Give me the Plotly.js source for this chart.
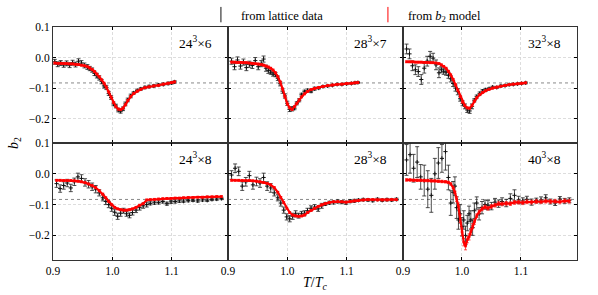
<!DOCTYPE html>
<html><head><meta charset="utf-8">
<script src="https://cdn.plot.ly/plotly-3.0.1.min.js"></script>
<style>html,body{margin:0;padding:0;background:#fff;}#plot{width:598px;height:295px;}</style>
</head><body><div id="plot"></div>
<script>
// ---------- data ----------
const panelLabels = ["24<sup>3</sup>×6","28<sup>3</sup>×7","32<sup>3</sup>×8","24<sup>3</sup>×8","28<sup>3</sup>×8","40<sup>3</sup>×8"];
const xTickVals = [0.9, 1.0, 1.1];
const xTickText = ["0.9", "1.0", "1.1"];
const yTickVals = [0.1, 0.0, -0.1, -0.2];
const yTickText = ["0.1", "0.0", "−0.1", "−0.2"];
const refLevel = -0.0833;

// 24^3 x 6
const T_A = [0.903,0.908,0.913,0.918,0.923,0.928,0.933,0.938,0.943,0.948,0.953,0.958,0.962,0.966,0.970,0.974,0.978,0.982,0.986,0.990,0.994,0.998,1.002,1.006,1.010,1.014,1.018,1.022,1.026,1.031,1.036,1.042,1.048,1.055,1.062,1.070,1.078,1.086,1.094,1.100,1.105];
const model_A = [-0.018,-0.019,-0.019,-0.020,-0.020,-0.021,-0.021,-0.022,-0.023,-0.025,-0.027,-0.030,-0.034,-0.039,-0.046,-0.054,-0.063,-0.073,-0.084,-0.097,-0.113,-0.130,-0.148,-0.161,-0.169,-0.171,-0.166,-0.155,-0.141,-0.128,-0.118,-0.110,-0.104,-0.099,-0.096,-0.093,-0.091,-0.087,-0.084,-0.082,-0.080];
const lat_A = [-0.014,-0.022,-0.018,-0.024,-0.019,-0.025,-0.017,-0.023,-0.012,-0.018,-0.026,-0.031,-0.036,-0.041,-0.052,-0.060,-0.067,-0.079,-0.093,-0.098,-0.118,-0.131,-0.152,-0.159,-0.172,-0.176,-0.168,-0.152,-0.139,-0.126,-0.116,-0.108,-0.103,-0.098,-0.095,-0.093,-0.090,-0.088,-0.085,-0.083,-0.080];
const latErr_A = [0.008,0.008,0.008,0.008,0.008,0.008,0.008,0.008,0.008,0.008,0.008,0.008,0.007,0.007,0.007,0.007,0.007,0.007,0.007,0.007,0.006,0.006,0.006,0.006,0.006,0.006,0.006,0.006,0.006,0.006,0.004,0.004,0.004,0.004,0.004,0.004,0.004,0.004,0.004,0.004,0.004];

// 28^3 x 7
const T_B = [0.906,0.911,0.916,0.921,0.926,0.931,0.936,0.941,0.946,0.951,0.956,0.960,0.964,0.968,0.972,0.976,0.980,0.984,0.988,0.992,0.996,1.000,1.004,1.008,1.012,1.016,1.020,1.024,1.029,1.034,1.040,1.046,1.053,1.060,1.068,1.076,1.084,1.092,1.100,1.108,1.114,1.119];
const model_B = [-0.015,-0.015,-0.016,-0.016,-0.017,-0.017,-0.018,-0.019,-0.020,-0.021,-0.023,-0.025,-0.028,-0.031,-0.035,-0.041,-0.050,-0.063,-0.080,-0.103,-0.128,-0.152,-0.165,-0.170,-0.161,-0.150,-0.139,-0.129,-0.119,-0.111,-0.105,-0.101,-0.098,-0.095,-0.092,-0.090,-0.088,-0.087,-0.085,-0.084,-0.083,-0.082];
const lat_B = [-0.012,-0.030,-0.008,-0.028,-0.015,-0.033,-0.022,-0.026,-0.010,-0.030,-0.020,-0.005,-0.035,-0.042,-0.048,-0.054,-0.056,-0.068,-0.086,-0.110,-0.126,-0.150,-0.170,-0.168,-0.166,-0.150,-0.140,-0.122,-0.112,-0.108,-0.110,-0.102,-0.100,-0.095,-0.093,-0.091,-0.088,-0.088,-0.086,-0.085,-0.083,-0.082];
const latErr_B = [0.010,0.010,0.010,0.010,0.010,0.010,0.010,0.010,0.010,0.010,0.010,0.010,0.010,0.010,0.007,0.007,0.007,0.007,0.007,0.007,0.007,0.007,0.007,0.007,0.005,0.005,0.005,0.005,0.005,0.005,0.005,0.005,0.003,0.003,0.003,0.003,0.003,0.003,0.003,0.003,0.003,0.003];

// 32^3 x 8
const T_C = [0.906,0.911,0.916,0.921,0.926,0.931,0.936,0.941,0.946,0.951,0.956,0.961,0.965,0.969,0.973,0.977,0.981,0.985,0.989,0.993,0.997,1.001,1.005,1.009,1.013,1.017,1.021,1.025,1.030,1.035,1.040,1.046,1.052,1.059,1.066,1.073,1.080,1.087,1.094,1.101,1.108];
const model_C = [-0.014,-0.014,-0.014,-0.015,-0.015,-0.015,-0.016,-0.016,-0.017,-0.017,-0.018,-0.020,-0.024,-0.029,-0.035,-0.045,-0.057,-0.072,-0.089,-0.107,-0.128,-0.146,-0.158,-0.165,-0.166,-0.157,-0.143,-0.132,-0.122,-0.114,-0.109,-0.104,-0.100,-0.097,-0.094,-0.091,-0.089,-0.087,-0.086,-0.084,-0.083];
const lat_C = [0.028,0.012,-0.027,-0.040,-0.046,-0.072,-0.035,-0.012,0.004,-0.002,-0.024,-0.050,-0.040,-0.045,-0.048,-0.058,-0.070,-0.085,-0.100,-0.112,-0.135,-0.150,-0.160,-0.172,-0.175,-0.160,-0.140,-0.128,-0.118,-0.110,-0.106,-0.102,-0.097,-0.098,-0.093,-0.092,-0.089,-0.088,-0.086,-0.085,-0.083];
const latErr_C = [0.016,0.016,0.016,0.016,0.016,0.016,0.016,0.016,0.016,0.016,0.016,0.016,0.010,0.010,0.010,0.010,0.010,0.010,0.010,0.010,0.008,0.008,0.008,0.008,0.008,0.008,0.005,0.005,0.005,0.005,0.005,0.003,0.003,0.003,0.003,0.003,0.003,0.003,0.003,0.003,0.003];

// 24^3 x 8 and 28^3 x 8 share temperatures
const T_N8 = [0.906,0.912,0.918,0.924,0.930,0.936,0.942,0.948,0.954,0.960,0.966,0.972,0.978,0.984,0.989,0.994,0.999,1.004,1.009,1.014,1.019,1.024,1.029,1.034,1.040,1.046,1.052,1.058,1.064,1.071,1.078,1.085,1.092,1.099,1.106,1.113,1.120,1.128,1.136,1.144,1.152,1.160,1.168,1.176,1.184];
const model_D = [-0.021,-0.021,-0.022,-0.022,-0.022,-0.023,-0.024,-0.026,-0.029,-0.033,-0.038,-0.045,-0.055,-0.066,-0.078,-0.090,-0.101,-0.109,-0.114,-0.117,-0.118,-0.118,-0.117,-0.114,-0.109,-0.102,-0.097,-0.085,-0.084,-0.083,-0.082,-0.081,-0.080,-0.080,-0.079,-0.079,-0.078,-0.077,-0.077,-0.076,-0.076,-0.075,-0.075,-0.074,-0.074];
const lat_D = [-0.032,-0.048,-0.038,-0.030,-0.046,-0.026,-0.010,-0.015,-0.028,-0.034,-0.042,-0.050,-0.062,-0.078,-0.090,-0.100,-0.112,-0.125,-0.138,-0.128,-0.120,-0.130,-0.135,-0.126,-0.118,-0.110,-0.104,-0.100,-0.096,-0.094,-0.093,-0.090,-0.097,-0.091,-0.090,-0.088,-0.089,-0.087,-0.086,-0.088,-0.085,-0.086,-0.083,-0.082,-0.080];
const latErr_D = [0.012,0.012,0.012,0.012,0.012,0.012,0.012,0.012,0.012,0.012,0.012,0.012,0.010,0.010,0.010,0.010,0.010,0.010,0.010,0.010,0.008,0.008,0.008,0.008,0.008,0.008,0.008,0.008,0.005,0.005,0.005,0.005,0.005,0.005,0.005,0.005,0.004,0.004,0.004,0.004,0.004,0.004,0.004,0.004,0.004];

const model_E = [-0.021,-0.021,-0.021,-0.022,-0.022,-0.022,-0.023,-0.024,-0.026,-0.028,-0.031,-0.036,-0.045,-0.060,-0.077,-0.094,-0.112,-0.126,-0.134,-0.137,-0.138,-0.137,-0.134,-0.126,-0.119,-0.112,-0.106,-0.101,-0.097,-0.093,-0.091,-0.090,-0.091,-0.092,-0.090,-0.088,-0.087,-0.085,-0.084,-0.084,-0.085,-0.085,-0.085,-0.084,-0.084];
const lat_E = [-0.004,0.018,0.008,-0.040,-0.026,-0.006,-0.036,-0.025,-0.030,-0.012,-0.040,-0.046,-0.062,-0.078,-0.095,-0.118,-0.140,-0.146,-0.138,-0.130,-0.136,-0.130,-0.128,-0.120,-0.112,-0.108,-0.114,-0.104,-0.098,-0.094,-0.093,-0.090,-0.092,-0.094,-0.089,-0.088,-0.086,-0.084,-0.085,-0.087,-0.083,-0.086,-0.084,-0.085,-0.083];
const latErr_E = [0.014,0.014,0.014,0.014,0.014,0.014,0.014,0.014,0.014,0.014,0.014,0.014,0.010,0.010,0.010,0.010,0.010,0.010,0.010,0.010,0.008,0.008,0.008,0.008,0.008,0.008,0.008,0.008,0.005,0.005,0.005,0.005,0.005,0.005,0.005,0.005,0.004,0.004,0.004,0.004,0.004,0.004,0.004,0.004,0.004];

// 40^3 x 8
const T_F = [0.906,0.912,0.918,0.924,0.930,0.936,0.942,0.948,0.954,0.960,0.966,0.972,0.977,0.981,0.985,0.988,0.991,0.994,0.997,1.000,1.003,1.006,1.009,1.012,1.015,1.018,1.021,1.025,1.029,1.034,1.039,1.044,1.050,1.056,1.062,1.068,1.075,1.082,1.089,1.096,1.103,1.110,1.118,1.126,1.134,1.142,1.150,1.158,1.166,1.174,1.182];
const model_F = [-0.020,-0.020,-0.021,-0.021,-0.021,-0.022,-0.022,-0.023,-0.023,-0.024,-0.025,-0.026,-0.028,-0.033,-0.045,-0.060,-0.082,-0.105,-0.146,-0.189,-0.222,-0.235,-0.214,-0.205,-0.188,-0.170,-0.156,-0.136,-0.124,-0.114,-0.108,-0.112,-0.106,-0.102,-0.097,-0.098,-0.096,-0.097,-0.093,-0.092,-0.094,-0.091,-0.092,-0.090,-0.091,-0.089,-0.090,-0.089,-0.091,-0.088,-0.089];
const modelErr_F = [0.004,0.004,0.004,0.004,0.004,0.004,0.004,0.004,0.004,0.004,0.004,0.004,0.004,0.004,0.004,0.004,0.008,0.010,0.012,0.012,0.012,0.012,0.010,0.010,0.010,0.008,0.008,0.006,0.006,0.006,0.006,0.006,0.006,0.006,0.006,0.006,0.006,0.006,0.006,0.006,0.006,0.006,0.006,0.006,0.006,0.006,0.006,0.006,0.006,0.006,0.006];
const lat_F = [0.045,0.062,0.018,0.038,-0.010,-0.022,-0.050,-0.070,0.000,0.035,0.050,0.072,-0.012,-0.095,-0.060,-0.040,-0.110,-0.150,-0.130,-0.172,-0.150,-0.200,-0.160,-0.130,-0.150,-0.175,-0.120,-0.095,-0.130,-0.110,-0.100,-0.102,-0.105,-0.092,-0.097,-0.090,-0.095,-0.080,-0.070,-0.085,-0.088,-0.083,-0.092,-0.087,-0.085,-0.078,-0.090,-0.095,-0.082,-0.088,-0.086];
const latErr_F = [0.050,0.060,0.045,0.050,0.040,0.050,0.060,0.055,0.050,0.050,0.045,0.060,0.040,0.040,0.035,0.030,0.035,0.030,0.030,0.030,0.030,0.030,0.025,0.025,0.030,0.025,0.025,0.020,0.020,0.020,0.015,0.015,0.012,0.012,0.012,0.012,0.012,0.015,0.018,0.012,0.010,0.010,0.010,0.008,0.010,0.010,0.008,0.008,0.008,0.008,0.008];

const modelErrDefault = 0.003;

const panels = [
  {T: T_A, model: model_A, lat: lat_A, latErr: latErr_A, modelErr: null},
  {T: T_B, model: model_B, lat: lat_B, latErr: latErr_B, modelErr: null},
  {T: T_C, model: model_C, lat: lat_C, latErr: latErr_C, modelErr: null},
  {T: T_N8, model: model_D, lat: lat_D, latErr: latErr_D, modelErr: null},
  {T: T_N8, model: model_E, lat: lat_E, latErr: latErr_E, modelErr: null},
  {T: T_F, model: model_F, lat: lat_F, latErr: latErr_F, modelErr: modelErr_F}
];

// ---------- layout geometry ----------
const W = 598, H = 295;
const colPx = [[53,228],[228,403],[403,577]];
const rowPx = [[27,143],[143,260]];
const FONT = "'Liberation Serif', 'DejaVu Serif', serif";

const traces = [];
const layout = {
  width: W, height: H,
  margin: {l:0, r:0, t:0, b:0},
  paper_bgcolor: "#fff", plot_bgcolor: "#fff",
  font: {family: FONT, size: 11, color: "#000"},
  showlegend: true,
  legend: {orientation: "h", x: 0.336, y: 1.0, xanchor: "left", yanchor: "top",
           bgcolor: "rgba(0,0,0,0)", font: {family: FONT, size: 12.5, color: "#000"},
           entrywidth: 122, entrywidthmode: "pixels", traceorder: "normal"},
  shapes: [], annotations: []
};

panels.forEach((p, i) => {
  const r = Math.floor(i / 3), c = i % 3;
  const n = i + 1;
  const xa = "x" + (n === 1 ? "" : n), ya = "y" + (n === 1 ? "" : n);
  const xk = "xaxis" + (n === 1 ? "" : n), yk = "yaxis" + (n === 1 ? "" : n);
  layout[xk] = {
    domain: [colPx[c][0]/W, colPx[c][1]/W], anchor: ya,
    range: [0.9, 1.195], tickvals: xTickVals, ticktext: xTickText,
    showticklabels: r === 1, ticks: "inside", ticklen: 3, tickcolor: "#000",
    showline: true, mirror: "ticks", linecolor: "#333", linewidth: 1,
    showgrid: true, gridcolor: "#d4d4d4", griddash: "3px,2px", gridwidth: 0.8, zeroline: false,
    tickfont: {family: FONT, size: 11.5}
  };
  layout[yk] = {
    domain: [1 - rowPx[r][1]/H, 1 - rowPx[r][0]/H], anchor: xa,
    range: [-0.28, 0.1], tickvals: yTickVals, ticktext: yTickText,
    showticklabels: c === 0, ticks: "inside", ticklen: 3, tickcolor: "#000",
    showline: true, mirror: "ticks", linecolor: "#333", linewidth: 1,
    showgrid: true, gridcolor: "#d4d4d4", griddash: "3px,2px", gridwidth: 0.8, zeroline: false,
    tickfont: {family: FONT, size: 11.5}
  };
  layout.shapes.push({type: "line", xref: xa + " domain", yref: ya, x0: 0, x1: 1, y0: refLevel, y1: refLevel,
    line: {color: "#888", width: 1, dash: "dot"}, layer: "below"});
  layout.annotations.push({xref: xa + " domain", yref: ya + " domain", x: 0.815, y: 0.87,
    text: panelLabels[i], showarrow: false, font: {family: FONT, size: 13.5}, xanchor: "center", yanchor: "middle"});

  traces.push({
    type: "scatter", mode: "markers", x: p.T, y: p.lat, xaxis: xa, yaxis: ya, showlegend: false,
    marker: {color: "#111", size: 3, symbol: "cross-thin-open", line: {color: "#111", width: 1}},
    error_y: {type: "data", array: p.latErr, visible: true, color: "#222", thickness: 0.8, width: 2}
  });
  traces.push({
    type: "scatter", mode: "lines+markers", x: p.T, y: p.model, xaxis: xa, yaxis: ya, showlegend: false,
    line: {color: "#ff0000", width: 2.2},
    marker: {color: "#ff0000", size: 2.5, symbol: "square"},
    error_y: p.modelErr ? {type: "data", array: p.modelErr, visible: true, color: "#ff2020", thickness: 0.8, width: 1.5}
                        : {type: "constant", value: modelErrDefault, visible: true, color: "#ff2020", thickness: 0.8, width: 1.5}
  });
});

// legend entries
traces.push({type: "scatter", mode: "markers", x: [null], y: [null], name: "from lattice data",
  marker: {symbol: "line-ns-open", size: 11, color: "#111", line: {color: "#111", width: 1}}, showlegend: true});
traces.push({type: "scatter", mode: "markers", x: [null], y: [null], name: "from <i>b</i><sub>2</sub> model",
  marker: {symbol: "line-ns-open", size: 11, color: "#ff0000", line: {color: "#ff0000", width: 1}}, showlegend: true});

layout.annotations.push({xref: "paper", yref: "paper", x: 14/W, y: 1 - 143/H, textangle: -90,
  text: "<i>b</i><sub>2</sub>", showarrow: false, font: {family: FONT, size: 14}, xanchor: "center", yanchor: "middle"});
layout.annotations.push({xref: "paper", yref: "paper", x: 315/W, y: 1 - 283/H,
  text: "<i>T</i>/<i>T</i><sub><i>c</i></sub>", showarrow: false, font: {family: FONT, size: 14}, xanchor: "center", yanchor: "middle"});

Plotly.newPlot("plot", traces, layout, {displayModeBar: false, staticPlot: true});
</script></body></html>
